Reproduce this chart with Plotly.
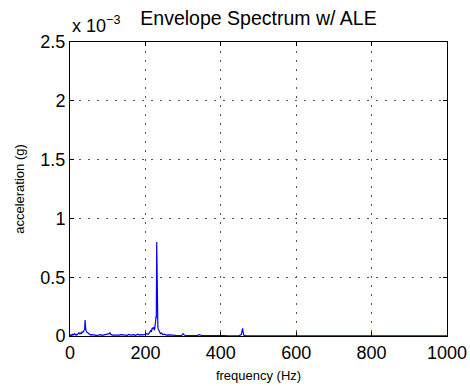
import plotly.graph_objects as go

# envelope spectrum (amplitude in units of 1e-3 g)
freq_hz = [0, 2, 4, 6, 8, 10, 12, 14, 16, 18, 20, 22, 24, 26, 28, 30, 32, 34, 36, 38,
           39, 40, 41, 42, 44, 46, 48, 50, 54, 58, 62, 66, 70, 75, 80, 85, 90, 95,
           100, 104, 106, 108, 112, 118, 124, 130, 136, 142, 148, 152, 156, 162, 168,
           174, 180, 184, 188, 194, 200, 204, 208, 212, 214, 216, 218, 220, 222, 224,
           226, 227, 228, 229, 230, 231, 232, 233, 234, 236, 238, 240, 243, 246, 250,
           255, 260, 266, 272, 280, 288, 296, 300, 304, 312, 320, 330, 338, 342, 350,
           360, 370, 380, 390, 400, 410, 420, 430, 440, 448, 454, 456, 458, 460, 462,
           466, 472, 480, 500, 520, 540, 560, 580, 600, 620, 640, 660, 680, 700, 720,
           740, 760, 780, 800, 820, 840, 860, 880, 900, 920, 940, 960, 980, 1000]
amp_e3 = [0.000, 0.010, 0.005, 0.015, 0.008, 0.012, 0.020, 0.010, 0.015, 0.008, 0.012, 0.020,
          0.030, 0.015, 0.025, 0.020, 0.035, 0.030, 0.040, 0.050, 0.060, 0.135, 0.070, 0.050,
          0.035, 0.030, 0.025, 0.015, 0.010, 0.012, 0.008, 0.010, 0.006, 0.008, 0.012, 0.006,
          0.010, 0.008, 0.012, 0.020, 0.030, 0.015, 0.008, 0.006, 0.010, 0.007, 0.012, 0.008,
          0.010, 0.006, 0.014, 0.008, 0.012, 0.006, 0.016, 0.008, 0.012, 0.010, 0.015, 0.020,
          0.015, 0.030, 0.045, 0.035, 0.070, 0.060, 0.075, 0.050, 0.080, 0.120, 0.165, 0.150,
          0.800, 0.140, 0.100, 0.080, 0.060, 0.045, 0.030, 0.020, 0.025, 0.012, 0.015, 0.008,
          0.010, 0.006, 0.008, 0.005, 0.006, 0.004, 0.020, 0.006, 0.004, 0.005, 0.003, 0.004,
          0.012, 0.004, 0.003, 0.004, 0.003, 0.003, 0.002, 0.003, 0.002, 0.003, 0.002, 0.003,
          0.010, 0.030, 0.065, 0.015, 0.005, 0.003, 0.002, 0.002, 0.002, 0.002, 0.002, 0.002,
          0.002, 0.002, 0.002, 0.002, 0.002, 0.002, 0.002, 0.002, 0.002, 0.002, 0.002, 0.002,
          0.002, 0.002, 0.002, 0.002, 0.002, 0.002, 0.002, 0.002, 0.002, 0.002]

x_ticks = [0, 200, 400, 600, 800, 1000]
y_ticks = [0, 0.5, 1, 1.5, 2, 2.5]
y_tick_labels = ["0", "0.5", "1", "1.5", "2", "2.5"]

FONT = "Liberation Sans, Arial, Helvetica, sans-serif"

fig = go.Figure()
fig.add_trace(go.Scatter(x=freq_hz, y=amp_e3, mode="lines",
                         line=dict(color="#0000ff", width=1.2), showlegend=False,
                         hoverinfo="skip"))

axis_common = dict(showline=True, linecolor="black", linewidth=1, mirror="ticks",
                   ticks="inside", ticklen=4, tickcolor="black", automargin=False,
                   showgrid=True, gridcolor="#555555", gridwidth=1, griddash="2px,7px",
                   zeroline=False, tickfont=dict(family=FONT, size=18, color="black"))

fig.update_xaxes(range=[0, 1000], tickvals=x_ticks, ticktext=[str(v) for v in x_ticks],
                 title=dict(text="frequency (Hz)", font=dict(family=FONT, size=13, color="black"),
                            standoff=9),
                 **axis_common)
fig.update_yaxes(range=[0, 2.5], tickvals=y_ticks, ticktext=y_tick_labels,
                 title=dict(text="acceleration (g)", font=dict(family=FONT, size=13, color="black"),
                            standoff=12),
                 **axis_common)

fig.update_layout(
    width=470, height=386,
    margin=dict(l=70, r=23, t=42, b=50),
    paper_bgcolor="white", plot_bgcolor="white",
    font=dict(family=FONT, color="black"),
    title=dict(text="Envelope Spectrum w/ ALE", x=0.55, xanchor="center",
               y=1 - 18 / 386, yanchor="middle",
               font=dict(family=FONT, size=19.5, color="black")),
    annotations=[dict(text="x 10<sup>\u22123</sup>", xref="paper", yref="paper",
                      x=0, y=1, xanchor="left", yanchor="bottom", yshift=4, showarrow=False,
                      font=dict(family=FONT, size=18, color="black"))],
)

fig.write_html("out.html")
